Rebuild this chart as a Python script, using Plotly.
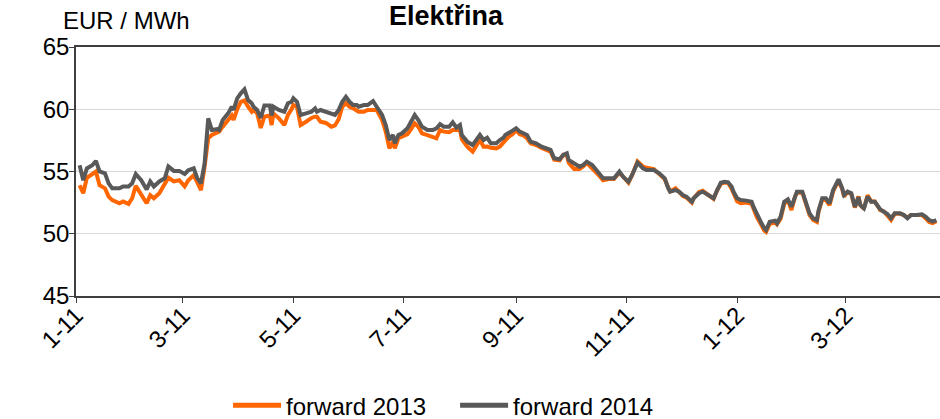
import plotly.graph_objects as go

dates = [
    "2011-01-03", "2011-01-05", "2011-01-07", "2011-01-10", "2011-01-12", "2011-01-14", "2011-01-17", "2011-01-19",
    "2011-01-21", "2011-01-25", "2011-01-27", "2011-01-30", "2011-02-01", "2011-02-03", "2011-02-06", "2011-02-09",
    "2011-02-11", "2011-02-13", "2011-02-16", "2011-02-19", "2011-02-21", "2011-02-24", "2011-02-27", "2011-03-02",
    "2011-03-04", "2011-03-07", "2011-03-09", "2011-03-11", "2011-03-13", "2011-03-15", "2011-03-17", "2011-03-20",
    "2011-03-21", "2011-03-23", "2011-03-26", "2011-03-28", "2011-03-29", "2011-03-31", "2011-04-02", "2011-04-04",
    "2011-04-06", "2011-04-08", "2011-04-09", "2011-04-11", "2011-04-13", "2011-04-15", "2011-04-18", "2011-04-19",
    "2011-04-20", "2011-04-23", "2011-04-26", "2011-04-28", "2011-04-30", "2011-05-01", "2011-05-03", "2011-05-05",
    "2011-05-08", "2011-05-11", "2011-05-13", "2011-05-14", "2011-05-16", "2011-05-19", "2011-05-22", "2011-05-24",
    "2011-05-26", "2011-05-28", "2011-05-30", "2011-06-01", "2011-06-03", "2011-06-05", "2011-06-06", "2011-06-09",
    "2011-06-11", "2011-06-14", "2011-06-16", "2011-06-17", "2011-06-19", "2011-06-21", "2011-06-23", "2011-06-25",
    "2011-06-26", "2011-06-28", "2011-06-30", "2011-07-03", "2011-07-05", "2011-07-07", "2011-07-09", "2011-07-11",
    "2011-07-14", "2011-07-17", "2011-07-19", "2011-07-21", "2011-07-23", "2011-07-26", "2011-07-28", "2011-07-30",
    "2011-08-01", "2011-08-02", "2011-08-05", "2011-08-08", "2011-08-10", "2011-08-12", "2011-08-14", "2011-08-16",
    "2011-08-18", "2011-08-21", "2011-08-23", "2011-08-25", "2011-08-26", "2011-08-28", "2011-08-30", "2011-09-01",
    "2011-09-03", "2011-09-05", "2011-09-07", "2011-09-09", "2011-09-12", "2011-09-15", "2011-09-17", "2011-09-20",
    "2011-09-22", "2011-09-25", "2011-09-27", "2011-09-29", "2011-09-30", "2011-10-03", "2011-10-06", "2011-10-08",
    "2011-10-10", "2011-10-13", "2011-10-16", "2011-10-19", "2011-10-22", "2011-10-25", "2011-10-28", "2011-10-30",
    "2011-11-02", "2011-11-04", "2011-11-07", "2011-11-10", "2011-11-12", "2011-11-16", "2011-11-19", "2011-11-22",
    "2011-11-24", "2011-11-25", "2011-11-28", "2011-11-30", "2011-12-02", "2011-12-04", "2011-12-07", "2011-12-08",
    "2011-12-11", "2011-12-13", "2011-12-15", "2011-12-18", "2011-12-19", "2011-12-21", "2011-12-23", "2011-12-25",
    "2011-12-27", "2011-12-29", "2011-12-30", "2012-01-01", "2012-01-03", "2012-01-06", "2012-01-09", "2012-01-10",
    "2012-01-12", "2012-01-14", "2012-01-16", "2012-01-17", "2012-01-19", "2012-01-22", "2012-01-23", "2012-01-25",
    "2012-01-27", "2012-01-29", "2012-01-31", "2012-02-02", "2012-02-03", "2012-02-06", "2012-02-08", "2012-02-10",
    "2012-02-12", "2012-02-14", "2012-02-15", "2012-02-17", "2012-02-19", "2012-02-21", "2012-02-23", "2012-02-25",
    "2012-02-26", "2012-02-28", "2012-02-29", "2012-03-02", "2012-03-04", "2012-03-06", "2012-03-08", "2012-03-09",
    "2012-03-11", "2012-03-13", "2012-03-15", "2012-03-17", "2012-03-19", "2012-03-20", "2012-03-22", "2012-03-24",
    "2012-03-26", "2012-03-28", "2012-03-31", "2012-04-02", "2012-04-04", "2012-04-06", "2012-04-09", "2012-04-12",
    "2012-04-14", "2012-04-16", "2012-04-18", "2012-04-20",
]

forward_2014 = [
    55.5, 54.3, 55.25, 55.5, 55.85, 55.0, 54.85, 54.05,
    53.65, 53.65, 53.8, 53.8, 54.05, 54.8, 54.3, 53.55,
    54.2, 53.8, 54.2, 54.45, 55.4, 55.05, 55.05, 54.8,
    55.1, 55.25, 54.45, 54.05, 55.65, 59.27, 58.33, 58.4,
    58.33, 59.14, 59.67, 60.2, 59.94, 60.88, 61.28, 61.6,
    60.74, 60.48, 60.2, 59.94, 59.3, 60.3, 60.3, 59.5,
    60.2, 59.94, 59.8, 60.48, 60.6, 60.88, 60.6, 59.54,
    59.67, 59.8, 60.07, 59.8, 59.94, 59.8, 59.67, 59.54,
    59.94, 60.6, 61.0, 60.6, 60.34, 60.34, 60.2, 60.34,
    60.34, 60.66, 60.2, 59.94, 59.54, 58.73, 57.53, 57.93,
    57.27, 57.93, 58.07, 58.47, 59.0, 59.54, 59.14, 58.6,
    58.33, 58.33, 58.47, 58.8, 58.6, 58.6, 58.95, 58.52,
    58.73, 57.93, 57.4, 57.13, 57.53, 57.93, 57.53, 57.71,
    57.27, 57.27, 57.53, 57.71, 57.93, 58.07, 58.28, 58.47,
    58.2, 58.07, 57.93, 57.4, 57.27, 56.99, 56.86, 56.73,
    56.06, 55.98, 56.33, 56.46, 55.92, 55.65, 55.39, 55.52,
    55.79, 55.52, 54.99, 54.45, 54.45, 54.45, 54.99, 54.58,
    54.18, 54.72, 55.71, 55.26, 55.12, 55.12, 54.85, 54.45,
    53.65, 53.38, 53.51, 53.38, 53.11, 52.98, 52.57, 52.85,
    53.25, 53.38, 53.2, 52.98, 52.85, 53.51, 54.1, 54.18,
    54.13, 53.78, 53.38, 52.85, 52.71, 52.66, 52.57, 52.17,
    51.5, 50.97, 50.44, 50.3, 50.97, 51.05, 50.84, 51.37,
    52.57, 52.76, 52.17, 53.11, 53.38, 53.38, 52.44, 51.64,
    51.24, 51.1, 51.9, 52.85, 52.85, 52.44, 53.51, 54.05,
    54.37, 53.65, 53.11, 53.38, 53.25, 52.17, 52.93, 52.31,
    52.04, 52.98, 52.57, 52.57, 52.17, 51.96, 51.77, 51.59,
    51.24, 51.64, 51.64, 51.51, 51.24, 51.51, 51.51, 51.56,
    51.37, 51.1, 50.97, 51.1,
]

forward_2013 = [
    53.9, 53.25, 54.5, 54.8, 55.0, 53.9, 53.65, 52.98,
    52.7, 52.45, 52.6, 52.4, 52.85, 53.85, 53.1, 52.45,
    53.1, 52.85, 53.25, 54.1, 54.5, 54.2, 54.3, 53.8,
    54.3, 54.7, 54.05, 53.5, 55.4, 57.67, 57.93, 58.07,
    58.2, 58.6, 59.14, 59.5, 59.14, 60.0, 60.6, 60.7,
    60.2, 59.8, 59.94, 59.67, 58.5, 59.4, 59.5, 58.73,
    59.67, 59.27, 58.73, 59.54, 60.0, 60.34, 60.2, 58.73,
    59.0, 59.3, 59.4, 59.4, 59.0, 58.9, 58.6, 58.7,
    59.2, 60.2, 60.5, 60.2, 60.07, 59.94, 59.8, 59.8,
    59.94, 59.94, 59.94, 59.67, 59.14, 58.2, 56.86, 57.4,
    56.86, 57.67, 57.8, 58.0, 58.4, 58.87, 58.6, 58.07,
    57.93, 57.75, 57.67, 58.33, 58.2, 58.15, 58.33, 58.33,
    58.33, 57.6, 57.0, 56.6, 57.0, 57.53, 56.99, 57.0,
    56.9, 56.86, 57.0, 57.27, 57.5, 57.8, 58.0, 58.3,
    58.0, 57.9, 57.67, 57.27, 57.13, 56.9, 56.8, 56.6,
    55.95, 55.9, 56.33, 56.3, 55.7, 55.2, 55.2, 55.4,
    55.7, 55.3, 54.8, 54.3, 54.4, 54.4, 54.9, 54.6,
    54.1, 54.7, 55.8, 55.4, 55.3, 55.2, 54.8, 54.4,
    53.7, 53.4, 53.65, 53.3, 53.05, 52.9, 52.5, 52.85,
    53.35, 53.45, 53.2, 52.9, 52.8, 53.5, 54.0, 54.1,
    54.1, 53.6, 53.2, 52.6, 52.45, 52.5, 52.4, 52.0,
    51.3, 50.8, 50.25, 50.15, 50.8, 50.9, 50.75, 51.2,
    52.4, 52.7, 51.9, 53.0, 53.3, 53.3, 52.3, 51.5,
    51.1, 50.95, 51.8, 52.75, 52.7, 52.3, 53.4, 54.0,
    54.3, 53.6, 53.0, 53.35, 53.2, 52.1, 53.0, 52.3,
    52.0, 53.1, 52.6, 52.6, 52.1, 51.9, 51.8, 51.5,
    51.1, 51.6, 51.6, 51.5, 51.3, 51.5, 51.5, 51.5,
    51.25, 50.95, 50.85, 51.0,
]

tick_dates = ["2011-01-01", "2011-03-01", "2011-05-01", "2011-07-01",
              "2011-09-01", "2011-11-01", "2012-01-01", "2012-03-01"]
tick_labels = ["1-11", "3-11", "5-11", "7-11", "9-11", "11-11", "1-12", "3-12"]
y_ticks = [45, 50, 55, 60, 65]

FONT = "Arial, 'Liberation Sans', sans-serif"
AXIS_COL = "#3f3f3f"
FS = 24

fig = go.Figure()
fig.add_trace(go.Scatter(x=dates, y=forward_2013, name="forward 2013", mode="lines",
                         line=dict(color="#FF6600", width=4)))
fig.add_trace(go.Scatter(x=dates, y=forward_2014, name="forward 2014", mode="lines",
                         line=dict(color="#595959", width=4)))

fig.update_layout(
    width=940, height=419,
    margin=dict(l=76, r=0, t=47, b=123, autoexpand=False),
    paper_bgcolor="white", plot_bgcolor="white",
    font=dict(family=FONT, size=FS, color="black"),
    title=dict(text="<b>Elektřina</b>", x=446 / 940, xref="container", xanchor="center",
               y=1 - 16 / 419, yref="container", yanchor="middle",
               font=dict(family=FONT, size=27, color="black")),
    showlegend=True,
    legend=dict(orientation="h", x=0.176, xanchor="left", y=-0.44, yanchor="middle",
                font=dict(family=FONT, size=FS, color="black"),
                bgcolor="rgba(0,0,0,0)", itemsizing="constant", tracegroupgap=0,
                itemwidth=48, entrywidth=164, entrywidthmode="pixels"),
    annotations=[dict(text="EUR / MWh", xref="paper", yref="paper", x=-0.0175, y=1.108,
                      xanchor="left", yanchor="middle", showarrow=False,
                      font=dict(family=FONT, size=FS, color="black"))],
)

fig.update_xaxes(
    type="date", range=["2011-01-01", "2012-04-22"], automargin=False,
    tickmode="array", tickvals=tick_dates, ticktext=tick_labels, tickangle=-45,
    ticks="outside", ticklen=5, tickcolor=AXIS_COL, tickwidth=1,
    ticklabelstandoff=-11,
    showline=True, linecolor=AXIS_COL, linewidth=1.5, mirror=True,
    showgrid=False, zeroline=False,
    tickfont=dict(family=FONT, size=FS, color="black"),
)
fig.update_yaxes(
    range=[45, 65], tickmode="array", tickvals=y_ticks, automargin=False,
    ticks="outside", ticklen=5, tickcolor=AXIS_COL, tickwidth=1,
    ticklabelstandoff=-5,
    showline=True, linecolor=AXIS_COL, linewidth=1.5,
    showgrid=True, gridcolor="#d9d9d9", gridwidth=1.2, zeroline=False,
    tickfont=dict(family=FONT, size=FS, color="black"),
)

fig.write_html("out.html", config={"displayModeBar": False},
               post_script="document.body.style.margin='0';")
